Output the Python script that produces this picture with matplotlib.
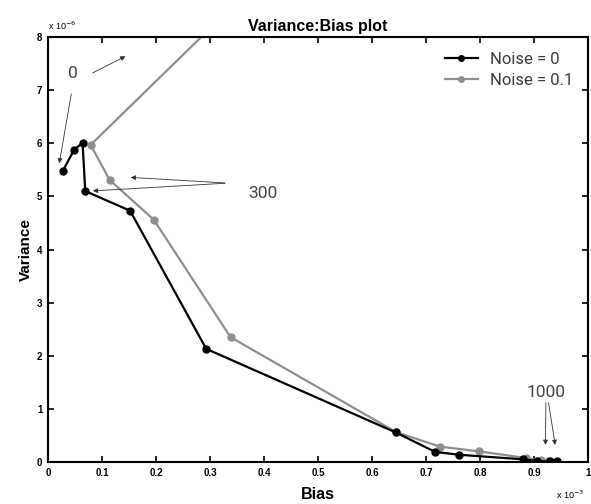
import matplotlib
matplotlib.use("Agg")
import matplotlib.pyplot as plt
from matplotlib.ticker import FuncFormatter, MultipleLocator

# Bias in units of 1e-3, Variance in units of 1e-6
bias_noise0 = [0.027, 0.048, 0.064, 0.069, 0.152, 0.293, 0.644, 0.717, 0.761, 0.880, 0.906, 0.929, 0.943]
var_noise0 = [5.47, 5.87, 6.01, 5.10, 4.73, 2.13, 0.556, 0.19, 0.137, 0.05, 0.02, 0.01, 0.01]

bias_noise01 = [0.40, 0.079, 0.114, 0.196, 0.338, 0.645, 0.726, 0.798, 0.886, 0.913, 0.925]
var_noise01 = [9.15, 5.97, 5.31, 4.56, 2.35, 0.56, 0.29, 0.20, 0.075, 0.03, 0.02]

labels = ["Noise = 0", "Noise = 0.1"]
title = "Variance:Bias plot"
xlabel = "Bias"
ylabel = "Variance"

fig = plt.figure(figsize=(5.91, 5.04), dpi=100)
ax = fig.add_axes([0.0812, 0.0833, 0.9138, 0.8433])

ax.plot(bias_noise0, var_noise0, color="black", lw=1.6, marker="o", ms=5,
        label=labels[0], zorder=3)
ax.plot(bias_noise01, var_noise01, color="#8e8e8e", lw=1.6, marker="o", ms=5,
        label=labels[1], zorder=2)

ax.set_xlim(0, 1)
ax.set_ylim(0, 8)
ax.xaxis.set_major_locator(MultipleLocator(0.1))
ax.yaxis.set_major_locator(MultipleLocator(1))
fmt = FuncFormatter(lambda v, p: "%g" % round(v, 3))
ax.xaxis.set_major_formatter(fmt)
ax.yaxis.set_major_formatter(fmt)
ax.tick_params(direction="in", length=4, width=1.2, top=True, right=True,
               labelsize=7, pad=4)
for lab in ax.get_xticklabels() + ax.get_yticklabels():
    lab.set_fontweight("bold")
    lab.set_family("Liberation Sans")
for s in ax.spines.values():
    s.set_linewidth(1.5)

ax.set_title(title, fontsize=11.5, fontweight="bold", family="Liberation Sans", pad=4)
ax.set_xlabel(xlabel, fontsize=11.5, fontweight="bold", family="Liberation Sans", labelpad=7)
ax.set_ylabel(ylabel, fontsize=11, fontweight="bold", family="Liberation Sans", labelpad=3)

ax.text(0.0, 1.012, r"x 10$^{-6}$", transform=ax.transAxes, fontsize=6.5,
        ha="left", va="bottom", family="Liberation Sans")
fig.text(0.94, 0.005, r"x 10$^{-3}$", fontsize=6.5, ha="left", va="bottom",
         family="Liberation Sans")

leg = ax.legend(loc="upper right", frameon=False,
                prop={"family": "Roboto", "size": 12},
                handlelength=2.0, borderaxespad=0.5, labelspacing=0.35,
                handletextpad=0.7)
for t in leg.get_texts():
    t.set_color("#3a3a3a")
for h in leg.get_lines():
    h.set_markersize(4)

akw = dict(arrowstyle="-|>", color="#333333", lw=0.6, mutation_scale=7)
tkw = dict(fontsize=12.5, family="Roboto", color="#444444")

ax.text(0.046, 7.32, "0", ha="center", va="center", **tkw)
ax.annotate("", xy=(0.020, 5.57), xytext=(0.044, 6.98), arrowprops=akw)
ax.annotate("", xy=(0.148, 7.66), xytext=(0.078, 7.30), arrowprops=akw)

ax.text(0.398, 5.06, "300", ha="center", va="center", **tkw)
ax.annotate("", xy=(0.148, 5.36), xytext=(0.333, 5.25), arrowprops=akw)
ax.annotate("", xy=(0.078, 5.10), xytext=(0.333, 5.25), arrowprops=akw)

ax.text(0.923, 1.30, "1000", ha="center", va="center", **tkw)
ax.annotate("", xy=(0.921, 0.27), xytext=(0.922, 1.17), arrowprops=akw)
ax.annotate("", xy=(0.940, 0.27), xytext=(0.926, 1.17), arrowprops=akw)

fig.savefig("out.png", dpi=100)
